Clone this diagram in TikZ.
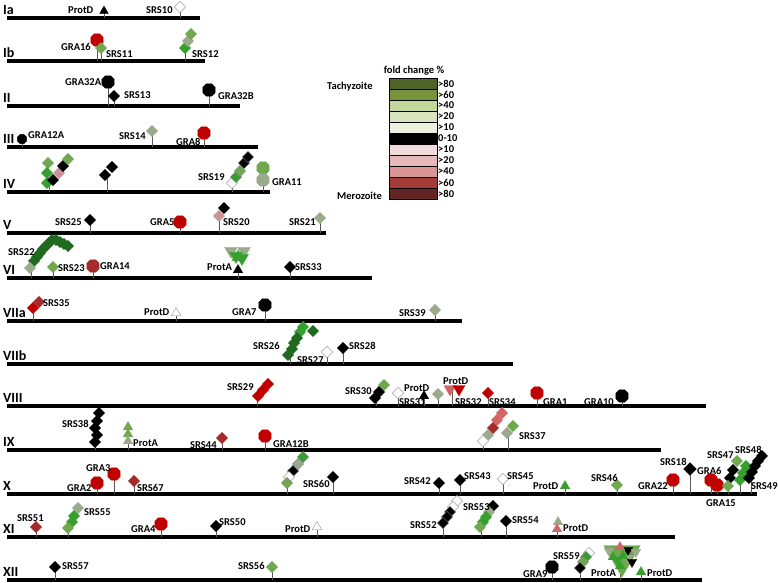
\documentclass[tikz,border=0pt]{standalone}
\usepackage{fontspec}
\setmainfont{Carlito}
\usetikzlibrary{shapes.geometric}
\definecolor{mkdg}{HTML}{1F6A1F}
\definecolor{mkg}{HTML}{36A02E}
\definecolor{mklg}{HTML}{6FA84F}
\definecolor{mkgg}{HTML}{9BAA8B}
\definecolor{mkp}{HTML}{C9939A}
\definecolor{mkr}{HTML}{C00000}
\definecolor{mkdr}{HTML}{A52A2A}
\definecolor{mklr}{HTML}{D06565}
\definecolor{lgA}{HTML}{4F6228}
\definecolor{lgB}{HTML}{77933C}
\definecolor{lgC}{HTML}{C3D69B}
\definecolor{lgD}{HTML}{D7E4BD}
\definecolor{lgE}{HTML}{EBF1DE}
\definecolor{lgF}{HTML}{000000}
\definecolor{lgG}{HTML}{F2DCDB}
\definecolor{lgH}{HTML}{E6B9B8}
\definecolor{lgI}{HTML}{D99694}
\definecolor{lgJ}{HTML}{A33B37}
\definecolor{lgK}{HTML}{632523}
\tikzset{chrom/.style={line width=3.2pt,black},
  stem/.style={line width=1pt,gray!70!black},
  lab/.style={anchor=west,inner sep=0pt,text=black,font=\fontsize{10.5}{12}\selectfont\bfseries},
  chr/.style={anchor=south west,inner sep=0pt,font=\fontsize{14}{15}\selectfont\bfseries},
  srs/.style={diamond,inner sep=0pt,minimum size=11.5pt,fill=#1,draw=#1,line width=0.3pt},
  srsw/.style={srs=white,draw=gray},
  gra/.style={regular polygon,regular polygon sides=8,inner sep=0pt,minimum size=13.5pt,fill=#1,draw=#1,line width=0.3pt},
  prot/.style={regular polygon,regular polygon sides=3,inner sep=0pt,minimum size=11pt,fill=#1,draw=#1,line width=0.3pt},
  protdn/.style={prot=#1,shape border rotate=180,minimum size=14pt},
  protbig/.style={prot=#1,minimum size=14pt}}

\begin{document}
\begin{tikzpicture}[x=1pt,y=-1pt]
   \useasboundingbox (0,0) rectangle (778,582);
   % chromosomes
   \foreach \nm/\yy/\xe in {Ia/18/200, Ib/61/205, II/106/240, III/147/258, IV/192/270,
      V/233/326, VI/278/372, VIIa/321/462, VIIb/364/513, VIII/406/706, IX/450/661,
      X/494/757, XI/537/675, XII/580/702}{
     \draw[chrom] (7,\yy) -- (\xe,\yy);
     \node[chr] (c\nm) at (3,\yy-3) {\nm};
   }
   % legend
   \node[lab,anchor=center] (lgtitle) at (414,71) {fold change \%};
   \foreach \c/\t [count=\i from 0] in {lgA/>80, lgB/>60, lgC/>40, lgD/>20, lgE/>10,
      lgF/0-10, lgG/>10, lgH/>20, lgI/>40, lgJ/>60, lgK/>80}{
     \draw[black,line width=0.6pt,fill=\c] (389,78+11*\i) rectangle (437,89+11*\i);
     \node[lab] (lg\i) at (438,83.5+11*\i) {\t};
   }
   \node[lab] (tachy) at (327,87) {Tachyzoite};
   \node[lab] (mero) at (337,196) {Merozoite};

   % Ia
   \draw[stem] (104,18) -- (104,11) node[prot=black,minimum size=10pt] {};
   \node[lab] at (68,10) {ProtD};
   \draw[stem] (180,18) -- (180,7) node[srsw] {};
   \node[lab] at (146,10) {SRS10};
   % Ib
   \draw[stem] (97,61) -- (97,40) node[gra=mkr] {};
   \draw[stem] (101,61) -- (101,48) node[srs=mklg] {};
   \node[lab] at (61,47) {GRA16};
   \node[lab] at (106,54) {SRS11};
   \draw[stem] (185,61) -- (185,48);
   \foreach \x/\y/\c in {185/48/mkg, 188/41/mkgg, 191/34/mklg} \node[srs=\c] at (\x,\y) {};
   \node[lab] at (192,54) {SRS12};
   % II
   \draw[stem] (108,106) -- (108,82) node[gra=black] {};
   \node[lab] at (65,82) {GRA32A};
   \draw[stem] (114,106) -- (114,96) node[srs=black] {};
   \node[lab] at (124,95) {SRS13};
   \draw[stem] (209,106) -- (209,90) node[gra=black] {};
   \node[lab] at (218,96) {GRA32B};
   % III
   \draw[stem] (22,147) -- (22,139) node[gra=black,minimum size=10pt] {};
   \node[lab] at (28,135) {GRA12A};
   \draw[stem] (152,147) -- (152,131) node[srs=mkgg] {};
   \node[lab] at (119,136) {SRS14};
   \draw[stem] (204,147) -- (204,133) node[gra=mkr] {};
   \node[lab] at (176,142) {GRA8};
   % IV
   \draw[stem] (49,192) -- (49,184);
   \foreach \x/\y/\c in {48/163/mklg, 47/173/mkg, 47/183/mkg, 53/180/black, 59/173/mkp,
      63/166/black, 68/159/mklg} \node[srs=\c] at (\x,\y) {};
   \draw[stem] (107,192) -- (107,176);
   \foreach \x/\y in {105/175, 112/167} \node[srs=black] at (\x,\y) {};
   \draw[stem] (232,192) -- (232,183);
   \foreach \x/\y/\c in {232/183/white, 236/177/mkg, 240/171/mklg, 244/163/black,
      248/157/black} \node[srs=\c,draw=gray] at (\x,\y) {};
   \node[lab] at (198,177) {SRS19};
   \draw[stem] (263,192) -- (263,180);
   \node[gra=mklg] at (263,168) {};
   \node[gra=mkgg] at (263,180) {};
   \node[lab] at (272,182) {GRA11};
   % V
   \draw[stem] (90,233) -- (90,220) node[srs=black] {};
   \node[lab] at (55,222) {SRS25};
   \draw[stem] (180,233) -- (180,222) node[gra=mkr] {};
   \node[lab] at (150,222) {GRA5};
   \draw[stem] (219,233) -- (219,216);
   \node[srs=black] at (224,208) {};
   \node[srs=mkp] at (219,216) {};
   \node[lab] at (223,222) {SRS20};
   \draw[stem] (320,233) -- (320,218) node[srs=mkgg] {};
   \node[lab] at (289,222) {SRS21};
   % VI
   \draw[stem] (31,278) -- (31,268);
   \foreach \x/\y in {68/246, 64/244, 60/242, 56/240, 52/240, 49/243, 46/246, 43/249,
      40/253, 37/257, 34/261} \node[srs=mkdg] at (\x,\y) {};
   \node[srs=mkgg] at (30,268) {};
   \node[lab] at (8,252) {SRS22};
   \draw[stem] (53,278) -- (53,267) node[srs=mklg] {};
   \node[lab] at (58,268) {SRS23};
   \draw[stem] (93,278) -- (93,266) node[gra=mkdr] {};
   \node[lab] at (100,266) {GRA14};
   \draw[stem] (238,278) -- (238,270);
   \foreach \x/\y/\c in {231/251/mkgg, 244/251/mkgg, 236/256/mkg, 242/258/mkg}
     \node[protdn=\c,minimum size=15pt] at (\x,\y) {};
   \node[protbig=mkg] at (238,257) {};
   \node[prot=black] at (238,270) {};
   \node[lab] at (207,267) {ProtA};
   \draw[stem] (290,278) -- (290,267) node[srs=black] {};
   \node[lab] at (295,267) {SRS33};
   % VIIa
   \draw[stem] (33,321) -- (33,308);
   \node[srs=mkdr] at (39,302) {};
   \node[srs=mkr] at (33,308) {};
   \node[lab] at (43,303) {SRS35};
   \draw[stem] (176,321) -- (176,313) node[prot=white,draw=gray] {};
   \node[lab] at (144,312) {ProtD};
   \draw[stem] (265,321) -- (265,305) node[gra=black] {};
   \node[lab] at (232,312) {GRA7};
   \draw[stem] (435,321) -- (435,310) node[srs=mkgg] {};
   \node[lab] at (399,313) {SRS39};
   % VIIb
   \draw[stem] (290,364) -- (290,355);
   \foreach \x/\y/\c in {313/331/mkdg, 303/327/mkg, 300/332/mkg, 297/338/mkdg,
      294/343/mkdg, 292/349/mkdg, 288/355/mkdg} \node[srs=\c] at (\x,\y) {};
   \node[lab] at (253,346) {SRS26};
   \draw[stem] (327,364) -- (327,352) node[srsw] {};
   \node[lab] at (297,360) {SRS27};
   \draw[stem] (343,364) -- (343,348) node[srs=black] {};
   \node[lab] at (349,346) {SRS28};
   % VIII
   \draw[stem] (257,406) -- (257,396);
   \foreach \x/\y in {268/384, 263/390, 258/396} \node[srs=mkr] at (\x,\y) {};
   \node[lab] at (227,387) {SRS29};
   \draw[stem] (376,406) -- (376,398);
   \foreach \x/\y/\c in {384/385/mklg, 379/392/black, 375/398/black}
     \node[srs=\c] at (\x,\y) {};
   \node[lab] at (345,391) {SRS30};
   \draw[stem] (398,406) -- (398,393) node[srsw] {};
   \node[lab] at (399,402) {SRS31};
   \draw[stem] (424,406) -- (424,396) node[prot=black] {};
   \node[lab] at (404,388) {ProtD};
   \draw[stem] (438,406) -- (438,394) node[srs=mkgg] {};
   \draw[stem] (452,406) -- (452,390);
   \node[protdn=mklr] at (450,389) {};
   \node[protdn=mkr] at (459,389) {};
   \node[lab] at (443,381) {ProtD};
   \node[lab] at (455,402) {SRS32};
   \draw[stem] (488,406) -- (488,393) node[srs=mkr] {};
   \node[lab] at (489,402) {SRS34};
   \draw[stem] (537,406) -- (537,393) node[gra=mkr] {};
   \node[lab] at (543,402) {GRA1};
   \draw[stem] (622,406) -- (622,396) node[gra=black] {};
   \node[lab] at (584,402) {GRA10};
   % IX
   \draw[stem] (95,450) -- (95,442);
   \foreach \x/\y in {99/413, 97/421, 95/428, 97/435, 95/442} \node[srs=black] at (\x,\y) {};
   \node[lab] at (62,424) {SRS38};
   \draw[stem] (128,450) -- (128,441);
   \foreach \y/\c in {427/mklg, 434/mklg, 441/mkgg} \node[prot=\c] at (128,\y) {};
   \node[lab] at (133,443) {ProtA};
   \draw[stem] (222,450) -- (222,438) node[srs=mkdr] {};
   \node[lab] at (190,445) {SRS44};
   \draw[stem] (265,450) -- (265,436) node[gra=mkr] {};
   \node[lab] at (273,444) {GRA12B};
   \draw[stem] (483,450) -- (483,441);
   \foreach \x/\y/\c in {502/413/mklr, 497/420/mklr, 493/428/mkdr, 488/435/mkgg,
      483/441/white} \node[srs=\c] at (\x,\y) {};
   \node[srsw] at (483,441) {};
   \draw[stem] (508,450) -- (508,433);
   \node[srs=mklg] at (513,426) {};
   \node[srs=mkgg] at (507,433) {};
   \node[lab] at (519,436) {SRS37};
   % X
   \draw[stem] (97,494) -- (97,483) node[gra=mkr] {};
   \node[lab] at (67,488) {GRA2};
   \draw[stem] (114,494) -- (114,474) node[gra=mkr] {};
   \node[lab] at (86,468) {GRA3};
   \draw[stem] (134,494) -- (134,481) node[srs=mkdr] {};
   \node[lab] at (137,488) {SRS67};
   \draw[stem] (287,494) -- (287,483);
   \foreach \x/\y/\c in {303/457/mkg, 298/464/mkgg, 293/471/black, 289/477/white,
      287/483/mklg} \node[srs=\c,draw=gray] at (\x,\y) {};
   \draw[stem] (333,494) -- (333,477) node[srs=black] {};
   \node[lab] at (303,484) {SRS60};
   \draw[stem] (439,494) -- (439,483) node[srs=black] {};
   \node[lab] at (404,481) {SRS42};
   \draw[stem] (460,494) -- (460,480) node[srs=black] {};
   \node[lab] at (464,476) {SRS43};
   \draw[stem] (503,494) -- (503,479) node[srsw] {};
   \node[lab] at (507,476) {SRS45};
   \draw[stem] (565,494) -- (565,486) node[prot=mkg] {};
   \node[lab] at (533,486) {ProtD};
   \draw[stem] (617,494) -- (617,485) node[srs=mklg] {};
   \node[lab] at (591,478) {SRS46};
   \draw[stem] (673,494) -- (673,480) node[gra=mkr] {};
   \node[lab] at (638,486) {GRA22};
   \draw[stem] (690,494) -- (690,469) node[srs=black,minimum size=13pt] {};
   \node[lab] at (660,462) {SRS18};
   \draw[stem] (711,494) -- (711,480) node[gra=mkr] {};
   \draw[stem] (717,494) -- (717,485) node[gra=mkr] {};
   \node[lab] at (697,471) {GRA6};
   \node[lab] at (706,503) {GRA15};
   \draw[stem] (728,494) -- (728,486);
   \foreach \x/\y/\c in {737/461/mklg, 733/470/black, 730/478/black, 728/486/mklg}
     \node[srs=\c] at (\x,\y) {};
   \node[lab] at (707,455) {SRS47};
   \draw[stem] (740,494) -- (740,480);
   \foreach \x/\y in {746/466, 743/473, 740/480} \node[srs=mkg] at (\x,\y) {};
   \node[lab] at (735,450) {SRS48};
   \draw[stem] (751,494) -- (751,478);
   \foreach \x/\y in {762/456, 758/461, 755/466, 752/472, 749/478} \node[srs=black] at (\x,\y) {};
   \node[lab] at (751,486) {SRS49};
   % XI
   \draw[stem] (36,537) -- (36,527) node[srs=mkdr] {};
   \node[lab] at (17,518) {SRS51};
   \draw[stem] (68,537) -- (68,528);
   \foreach \x/\y/\c in {78/508/mkgg, 74/516/mkg, 72/522/mkg, 68/528/mklg}
     \node[srs=\c] at (\x,\y) {};
   \node[lab] at (84,512) {SRS55};
   \draw[stem] (161,537) -- (161,524) node[gra=mkr] {};
   \node[lab] at (131,529) {GRA4};
   \draw[stem] (216,537) -- (216,526) node[srs=black] {};
   \node[lab] at (219,522) {SRS50};
   \draw[stem] (317,537) -- (317,527) node[prot=white,draw=gray] {};
   \node[lab] at (285,529) {ProtD};
   \draw[stem] (443,537) -- (443,523);
   \foreach \x/\y/\c in {457/501/white, 453/507/white, 450/512/black, 447/517/black,
      443/523/black} \node[srs=\c,draw=gray] at (\x,\y) {};
   \node[lab] at (410,525) {SRS52};
   \draw[stem] (481,537) -- (481,527);
   \foreach \x/\y/\c in {493/506/black, 489/512/mkgg, 486/517/mkg, 483/522/mkg,
      480/527/mklg} \node[srs=\c] at (\x,\y) {};
   \node[lab] at (463,507) {SRS53};
   \draw[stem] (506,537) -- (506,521) node[srs=black] {};
   \node[lab] at (512,520) {SRS54};
   \draw[stem] (557,537) -- (557,529);
   \node[prot=mkgg] at (558,522) {};
   \node[prot=mklr] at (557,529) {};
   \node[lab] at (563,528) {ProtD};
   % XII
   \draw[stem] (55,580) -- (55,567) node[srs=black] {};
   \node[lab] at (62,566) {SRS57};
   \draw[stem] (272,580) -- (272,567) node[srs=mklg] {};
   \node[lab] at (238,566) {SRS56};
   \draw[stem] (552,580) -- (552,567) node[gra=black] {};
   \node[lab] at (523,574) {GRA9};
   \draw[stem] (580,580) -- (580,568);
   \foreach \x/\y/\c in {589/553/white, 586/557/mkg, 583/562/mklg, 580/568/black}
     \node[srs=\c,draw=gray] at (\x,\y) {};
   \node[lab] at (553,556) {SRS59};
   \draw[stem] (620,580) -- (620,566);
   \node[protdn=mklg,minimum size=42pt] at (622,556) {};
   \foreach \x/\y/\c in {609/551/mkgg, 628/550/black, 636/552/mkgg, 617/560/mkg,
      628/558/mkgg, 632/562/black, 622/568/mklg}
     \node[protdn=\c,minimum size=11pt] at (\x,\y) {};
   \foreach \x/\y/\c in {620/547/mklr, 613/557/mkg, 623/556/mkg, 620/566/mkg}
     \node[prot=\c] at (\x,\y) {};
   \node[lab] at (591,573) {ProtA};
   \draw[stem] (641,580) -- (641,572) node[prot=mkg] {};
   \node[lab] at (647,573) {ProtD};
\end{tikzpicture}
\end{document}
